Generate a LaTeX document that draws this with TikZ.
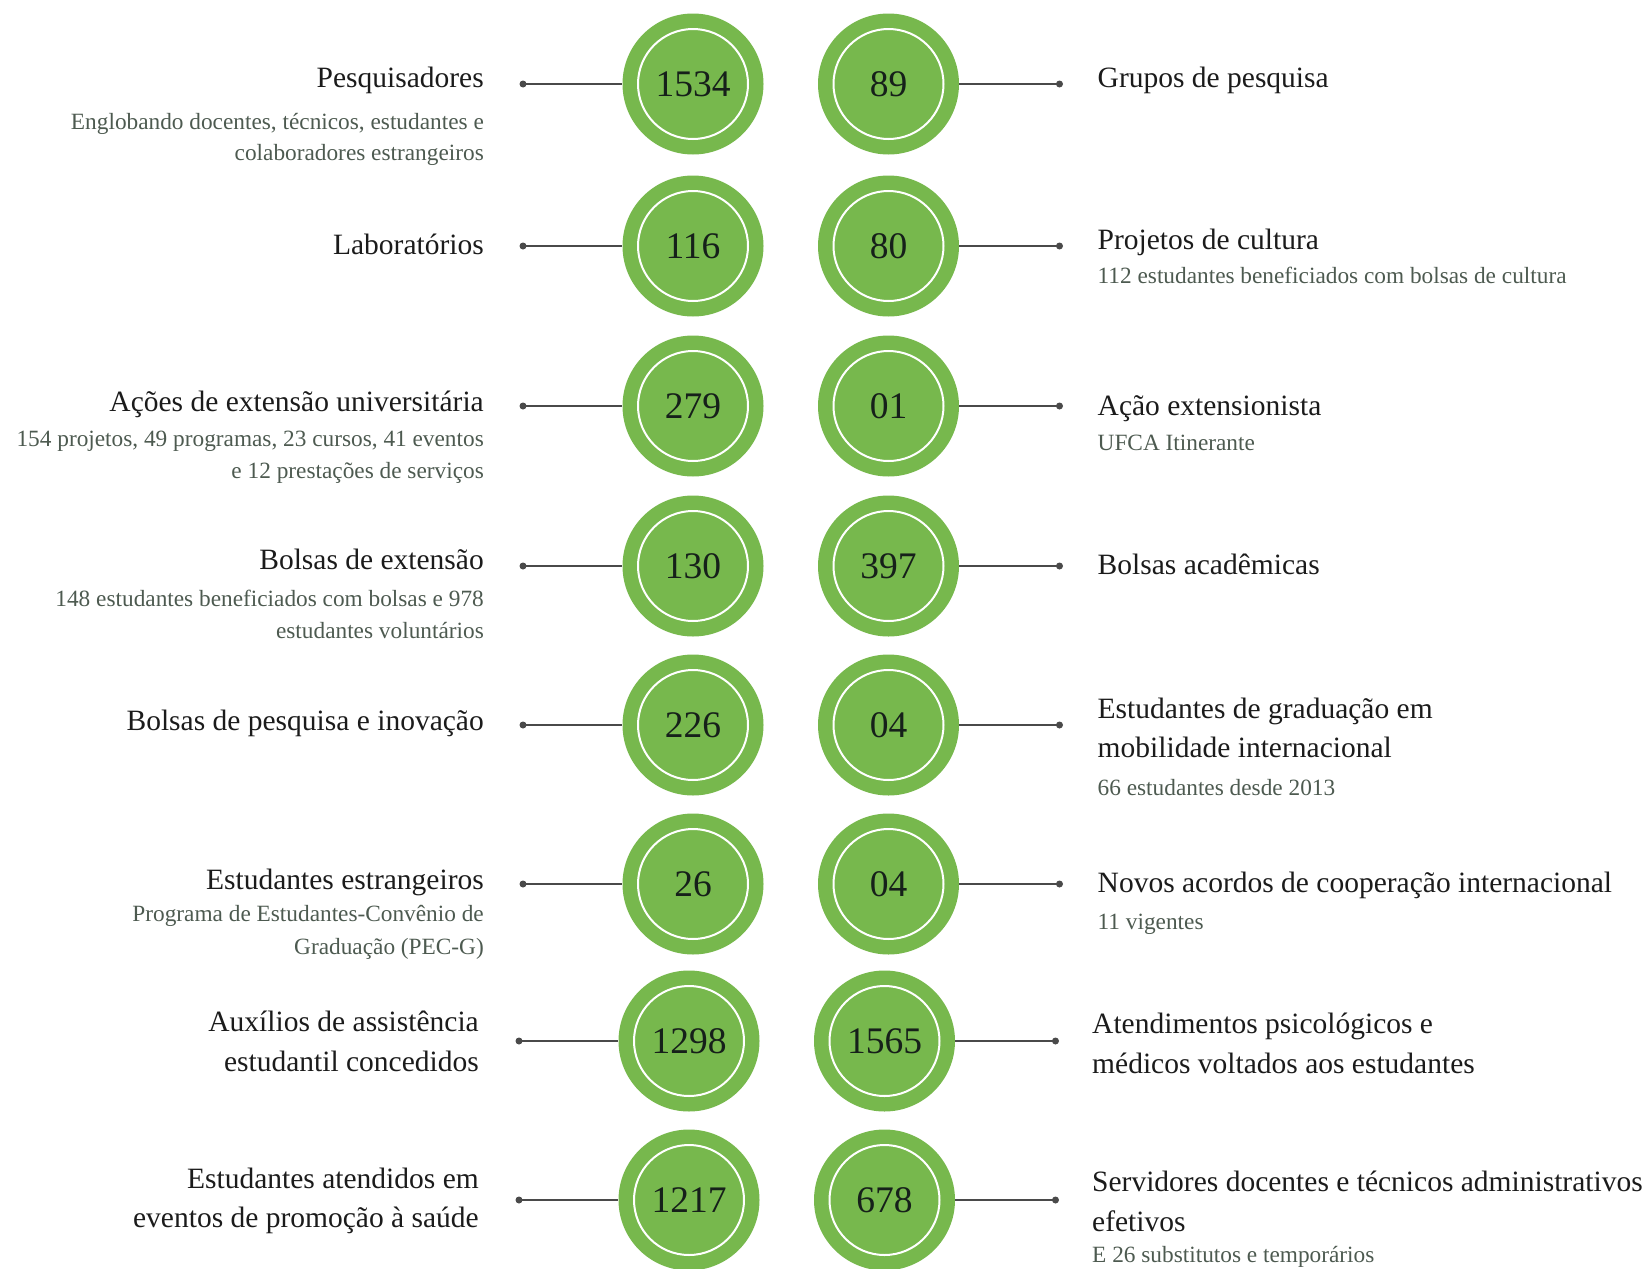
\documentclass[tikz,border=0pt]{standalone}
\usepackage{fontspec}
\setmainfont{Liberation Serif}
\definecolor{grn}{HTML}{77B84D}
\definecolor{ttlcol}{HTML}{1B1B1B}
\definecolor{subcol}{HTML}{4D5A50}
\definecolor{linecol}{HTML}{4A4A4A}
\definecolor{numcol}{HTML}{16201A}
\tikzset{
  circ/.style={circle, fill=grn, minimum size=141pt, inner sep=0pt, text=numcol, font=\fontsize{37.5}{40}\selectfont},
  ring/.style={draw=white, line width=2pt},
  ttlL/.style={anchor=base east, inner sep=0pt, text=ttlcol, font=\fontsize{29.5}{40}\selectfont},
  ttlR/.style={anchor=base west, inner sep=0pt, text=ttlcol, font=\fontsize{29.5}{40}\selectfont},
  subL/.style={anchor=base east, inner sep=0pt, text=subcol, font=\fontsize{23.3}{31}\selectfont},
  subR/.style={anchor=base west, inner sep=0pt, text=subcol, font=\fontsize{23.3}{31}\selectfont},
  conn/.style={draw=linecol, line width=1.8pt},
  enddot/.style={circle, fill=linecol, inner sep=0pt, minimum size=7pt},
}
\begin{document}
\begin{tikzpicture}[x=1pt,y=-1pt]
\useasboundingbox (0,0) rectangle (1650,1269);
% ---- circles
\node[circ] (cL1) at (693,84) {1534};
\node[circ] (cL2) at (693,246) {116};
\node[circ] (cL3) at (693,406) {279};
\node[circ] (cL4) at (693,566) {130};
\node[circ] (cL5) at (693,725) {226};
\node[circ] (cL6) at (693,884) {26};
\node[circ] (cL7) at (689,1041) {1298};
\node[circ] (cL8) at (689,1200) {1217};
\node[circ] (cR1) at (888.5,84) {89};
\node[circ] (cR2) at (888.5,246) {80};
\node[circ] (cR3) at (888.5,406) {01};
\node[circ] (cR4) at (888.5,566) {397};
\node[circ] (cR5) at (888.5,725) {04};
\node[circ] (cR6) at (888.5,884) {04};
\node[circ] (cR7) at (884.5,1041) {1565};
\node[circ] (cR8) at (884.5,1200) {678};
\foreach \n in {cL1,cL2,cL3,cL4,cL5,cL6,cL7,cL8,cR1,cR2,cR3,cR4,cR5,cR6,cR7,cR8}
  \draw[ring] (\n.center) circle (55pt);
% ---- dots
\node[enddot] (dL1) at (523,84) {};
\node[enddot] (dL2) at (523,246) {};
\node[enddot] (dL3) at (523,406) {};
\node[enddot] (dL4) at (523,566) {};
\node[enddot] (dL5) at (523,725) {};
\node[enddot] (dL6) at (523,884) {};
\node[enddot] (dL7) at (519,1041) {};
\node[enddot] (dL8) at (519,1200) {};
\node[enddot] (dR1) at (1059.5,84) {};
\node[enddot] (dR2) at (1059.5,246) {};
\node[enddot] (dR3) at (1059.5,406) {};
\node[enddot] (dR4) at (1059.5,566) {};
\node[enddot] (dR5) at (1059.5,725) {};
\node[enddot] (dR6) at (1059.5,884) {};
\node[enddot] (dR7) at (1055.5,1041) {};
\node[enddot] (dR8) at (1055.5,1200) {};
\foreach \i in {1,...,8} {
  \draw[conn] (dL\i.center) -- (cL\i);
  \draw[conn] (cR\i) -- (dR\i.center);
}
% ---- left texts
\node[ttlL] (tL1) at (484,87) {Pesquisadores};
\node[subL] (sL1a) at (484,129) {Englobando docentes, técnicos, estudantes e};
\node[subL] (sL1b) at (484,160.5) {colaboradores estrangeiros};
\node[ttlL] (tL2) at (484,254) {Laboratórios};
\node[ttlL] (tL3) at (484,411) {Ações de extensão universitária};
\node[subL] (sL3a) at (484,446) {154 projetos, 49 programas, 23 cursos, 41 eventos};
\node[subL] (sL3b) at (484,478) {e 12 prestações de serviços};
\node[ttlL] (tL4) at (484,569) {Bolsas de extensão};
\node[subL] (sL4a) at (484,606) {148 estudantes beneficiados com bolsas e 978};
\node[subL] (sL4b) at (484,638) {estudantes voluntários};
\node[ttlL] (tL5) at (484,730) {Bolsas de pesquisa e inovação};
\node[ttlL] (tL6) at (484,889) {Estudantes estrangeiros};
\node[subL] (sL6a) at (484,921.5) {Programa de Estudantes-Convênio de};
\node[subL] (sL6b) at (484,954) {Graduação (PEC-G)};
\node[ttlL] (tL7a) at (479,1031) {Auxílios de assistência};
\node[ttlL] (tL7b) at (479,1071) {estudantil concedidos};
\node[ttlL] (tL8a) at (479,1188) {Estudantes atendidos em};
\node[ttlL] (tL8b) at (479,1227) {eventos de promoção à saúde};
% ---- right texts
\node[ttlR] (tR1) at (1097.5,87) {Grupos de pesquisa};
\node[ttlR] (tR2) at (1097.5,249) {Projetos de cultura};
\node[subR] (sR2) at (1097.5,283) {112 estudantes beneficiados com bolsas de cultura};
\node[ttlR] (tR3) at (1097.5,415) {Ação extensionista};
\node[subR] (sR3) at (1097.5,450) {UFCA Itinerante};
\node[ttlR] (tR4) at (1097.5,574) {Bolsas acadêmicas};
\node[ttlR] (tR5a) at (1097.5,718) {Estudantes de graduação em};
\node[ttlR] (tR5b) at (1097.5,757) {mobilidade internacional};
\node[subR] (sR5) at (1097.5,795) {66 estudantes desde 2013};
\node[ttlR] (tR6) at (1097.5,892) {Novos acordos de cooperação internacional};
\node[subR] (sR6) at (1097.5,929) {11 vigentes};
\node[ttlR] (tR7a) at (1092,1033) {Atendimentos psicológicos e};
\node[ttlR] (tR7b) at (1092,1073) {médicos voltados aos estudantes};
\node[ttlR] (tR8a) at (1092,1191) {Servidores docentes e técnicos administrativos};
\node[ttlR] (tR8b) at (1092,1231) {efetivos};
\node[subR] (sR8) at (1092,1262) {E 26 substitutos e temporários};
\end{tikzpicture}
\end{document}
